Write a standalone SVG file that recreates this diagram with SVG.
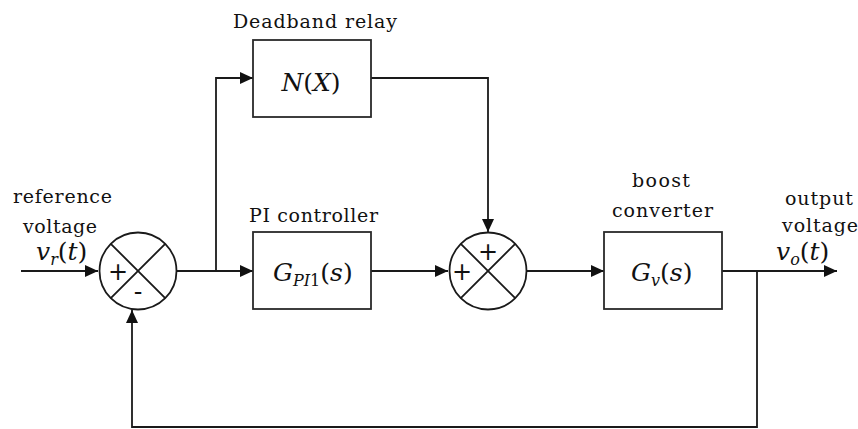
<svg xmlns="http://www.w3.org/2000/svg" width="858" height="429" viewBox="0 0 858 429">
<style>
.ln{fill:none;stroke:#1a1a1a;stroke-width:1.8}
.bx{fill:#fff;stroke:#2a2a2a;stroke-width:1.8}
.t{font-family:'DejaVu Serif',serif;font-size:19px;fill:#111}
.m{font-family:'DejaVu Serif',serif;font-size:25px;font-style:italic;fill:#111}
.u{font-style:normal}
.s{font-family:'DejaVu Sans',sans-serif;font-size:24px;fill:#111}
</style>
<defs>
<marker id="ah" markerUnits="userSpaceOnUse" markerWidth="14" markerHeight="12" refX="13" refY="6" orient="auto">
<path d="M0,0 L13,6 L0,12 z" fill="#111"/>
</marker>
</defs>
<g id="connectors">
<path class="ln" d="M21,271 H98" marker-end="url(#ah)"/>
<path class="ln" d="M177,271 H253" marker-end="url(#ah)"/>
<path class="ln" d="M216,271 V78 H253" marker-end="url(#ah)"/>
<path class="ln" d="M371,78 H488 V232" marker-end="url(#ah)"/>
<path class="ln" d="M371,271 H448" marker-end="url(#ah)"/>
<path class="ln" d="M527,271 H604" marker-end="url(#ah)"/>
<path class="ln" d="M722,271 H837" marker-end="url(#ah)"/>
<path class="ln" d="M757,271 V427 H132 V310" marker-end="url(#ah)"/>
</g>
<g id="input-label">
<text class="t" x="13" y="203" textLength="99" lengthAdjust="spacing">reference</text>
<text class="t" x="23" y="233" textLength="74" lengthAdjust="spacing">voltage</text>
<text class="m" x="36" y="260" font-size="23">v<tspan font-size="16" dy="5">r</tspan><tspan class="u" dy="-5">(</tspan>t<tspan class="u">)</tspan></text>
</g>
<g id="sum1">
<circle class="ln" cx="138" cy="271" r="38.5"/>
<path class="ln" d="M110.8,243.8 L165.2,298.2 M165.2,243.8 L110.8,298.2"/>
<text class="s" x="118" y="280" text-anchor="middle">+</text>
<text class="s" x="138" y="300" text-anchor="middle">-</text>
</g>
<g id="deadband">
<text class="t" x="233" y="28" textLength="164" lengthAdjust="spacing">Deadband relay</text>
<rect class="bx" x="253" y="40" width="118" height="77"/>
<text class="m" x="311" y="91" text-anchor="middle">N<tspan class="u">(</tspan>X<tspan class="u">)</tspan></text>
</g>
<g id="pi">
<text class="t" x="249" y="222" textLength="129" lengthAdjust="spacing">PI controller</text>
<rect class="bx" x="253" y="232" width="118" height="77"/>
<text class="m" x="273" y="281">G<tspan font-size="16" dy="5">PI<tspan class="u">1</tspan></tspan><tspan class="u" dy="-5">(</tspan>s<tspan class="u">)</tspan></text>
</g>
<g id="sum2">
<circle class="ln" cx="488" cy="271" r="38.5"/>
<path class="ln" d="M460.8,243.8 L515.2,298.2 M515.2,243.8 L460.8,298.2"/>
<text class="s" x="488" y="260" text-anchor="middle">+</text>
<text class="s" x="462" y="280" text-anchor="middle">+</text>
</g>
<g id="boost">
<text class="t" x="632" y="187" textLength="58" lengthAdjust="spacing">boost</text>
<text class="t" x="612" y="217" textLength="101" lengthAdjust="spacing">converter</text>
<rect class="bx" x="604" y="232" width="118" height="77"/>
<text class="m" x="631" y="281">G<tspan font-size="16" dy="5">v</tspan><tspan class="u" dy="-5">(</tspan>s<tspan class="u">)</tspan></text>
</g>
<g id="output-label">
<text class="t" x="785" y="205" textLength="68" lengthAdjust="spacing">output</text>
<text class="t" x="782" y="232" textLength="76" lengthAdjust="spacing">voltage</text>
<text class="m" x="776" y="260" font-size="23">v<tspan font-size="16" dy="5">o</tspan><tspan class="u" dy="-5">(</tspan>t<tspan class="u">)</tspan></text>
</g>
</svg>
